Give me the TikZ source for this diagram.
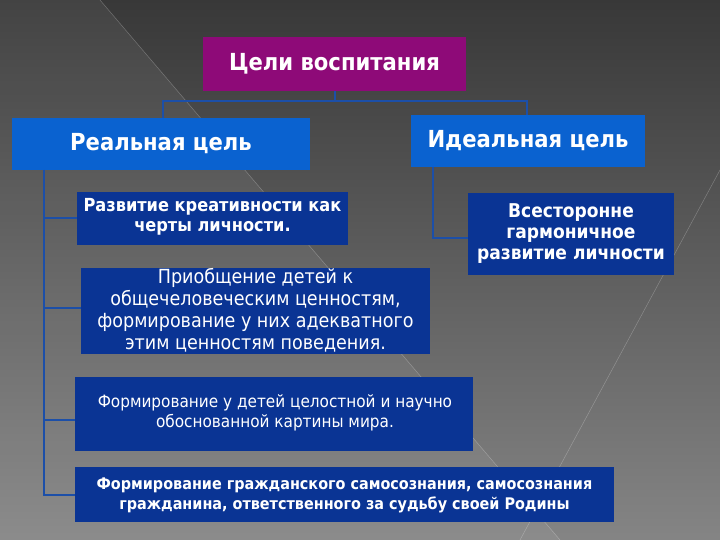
\documentclass[tikz,border=0pt]{standalone}
\usepackage{fontspec}
\setmainfont{DejaVu Sans}
\newfontfamily\cond{DejaVu Sans Condensed}
\begin{document}
\begin{tikzpicture}[x=1pt,y=-1pt,
 box/.style={draw=none,align=center,text=white,inner sep=0pt},
 conn/.style={draw=lineblue,line width=1.8pt}]
\definecolor{lineblue}{HTML}{1C4FA8}
\definecolor{mag}{HTML}{8E0A78}
\definecolor{lblue}{HTML}{0A62D0}
\definecolor{dblue}{HTML}{0A3494}
\useasboundingbox (0,0) rectangle (720,540);
\shade[top color=black!78,bottom color=black!48] (0,0) rectangle (720,540);
\fill[white,opacity=0.06] (0,0) -- (100,0) -- (560,540) -- (0,540) -- cycle;
\draw[white,opacity=0.25,line width=0.5pt] (100,0) -- (560,540);
\draw[white,opacity=0.25,line width=0.5pt] (720,170) -- (520,540);
% boxes
\fill[mag] (203,37) rectangle (466,91); \node[box,font=\cond\bfseries\fontsize{23.5}{28}\selectfont] (top) at (334.5,64) {Цели воспитания};
\fill[lblue] (12,118) rectangle (310,170); \node[box,font=\cond\bfseries\fontsize{23.5}{28}\selectfont] (real) at (161,144) {Реальная цель};
\fill[lblue] (411,115) rectangle (645,167); \node[box,font=\cond\bfseries\fontsize{23.5}{28}\selectfont] (ideal) at (528,141) {Идеальная цель};
\fill[dblue] (77,192) rectangle (348,245); \node[box,font=\cond\bfseries\fontsize{18}{20}\selectfont] (r1) at (212.5,217) {Развитие креативности как\\черты личности.};
\fill[dblue] (468,193) rectangle (674,275); \node[box,font=\cond\bfseries\fontsize{19}{21}\selectfont] (i1) at (571,234) {Всесторонне\\гармоничное\\развитие личности};
\fill[dblue] (81,268) rectangle (430,354); \node[box,font=\cond\fontsize{19.5}{22}\selectfont] (r2) at (255.5,310) {Приобщение детей к\\общечеловеческим ценностям,\\формирование у них адекватного\\этим ценностям поведения.};
\fill[dblue] (75,377) rectangle (473,451); \node[box,font=\cond\fontsize{17}{20}\selectfont] (r3) at (275,413) {Формирование у детей целостной и научно\\обоснованной картины мира.};
\fill[dblue] (75,467) rectangle (614,522); \node[box,font=\cond\bfseries\fontsize{16}{20}\selectfont] (r4) at (344.5,495) {Формирование гражданского самосознания, самосознания\\гражданина, ответственного за судьбу своей Родины};
% connectors
\coordinate (tb) at (335,91);
\draw[conn] (tb) -- (335,101) -- (163,101) -- (163,118);
\draw[conn] (335,101) -- (527,101) -- (527,115);
\draw[conn] (44,170) -- (44,495) -- (75,495);
\draw[conn] (44,218) -- (77,218);
\draw[conn] (44,308) -- (81,308);
\draw[conn] (44,420) -- (75,420);
\draw[conn] (433,167) -- (433,238) -- (468,238);
\end{tikzpicture}
\end{document}
